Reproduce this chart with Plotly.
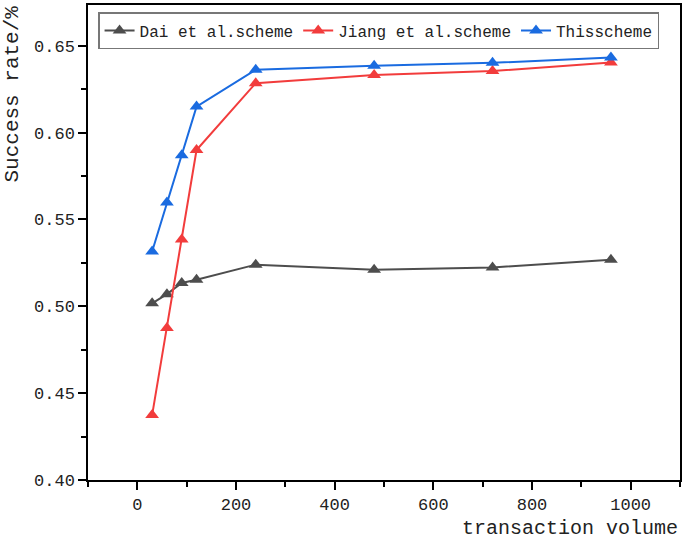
import plotly.graph_objects as go

x_vals = [30, 60, 90, 120, 240, 480, 720, 960]
dai = [0.5017, 0.507, 0.5134, 0.5153, 0.524, 0.5211, 0.5224, 0.5268]
jiang = [0.4374, 0.4875, 0.5385, 0.590, 0.6285, 0.6332, 0.6355, 0.6404]
ours = [0.5316, 0.5598, 0.587, 0.615, 0.6362, 0.6385, 0.6402, 0.6433]
names = ["Dai et al.scheme", "Jiang et al.scheme", "Thisscheme"]
colors = ["#4d4d4d", "#f23c3c", "#1a6be0"]

FONT = "Liberation Mono"
fig = go.Figure()
for name, ys, c in zip(names, [dai, jiang, ours], colors):
    fig.add_trace(go.Scatter(x=x_vals, y=ys, name=name, mode="lines+markers",
                             line=dict(color=c, width=2),
                             marker=dict(symbol="triangle-up", size=12, color=c)))

axis_common = dict(showline=True, linecolor="black", linewidth=1.5, mirror=True,
                   ticks="outside", ticklen=8, tickwidth=1.5, tickcolor="black",
                   showgrid=False, zeroline=False,
                   tickfont=dict(family=FONT, size=17, color="#222"))
fig.update_xaxes(range=[-100, 1100], tick0=0, dtick=200,
                 minor=dict(dtick=100, ticks="outside", ticklen=5, tickwidth=1.5, tickcolor="black"),
                 **axis_common)
fig.update_yaxes(range=[0.4, 0.6735], tick0=0.4, dtick=0.05, tickformat=".2f",
                 minor=dict(dtick=0.025, ticks="outside", ticklen=5, tickwidth=1.5, tickcolor="black"),
                 **axis_common)

fig.update_layout(
    width=685, height=542,
    margin=dict(l=88, r=4, t=3, b=62),
    plot_bgcolor="white", paper_bgcolor="white",
    font=dict(family=FONT, color="#222"),
    legend=dict(orientation="h", x=0.017, y=0.985, xanchor="left", yanchor="top",
                bordercolor="#777", borderwidth=1.5, bgcolor="white",
                font=dict(family=FONT, size=16, color="#222"), itemwidth=30,
                tracegroupgap=0),
    annotations=[
        dict(text="transaction volume", xref="paper", yref="paper", x=1.0, y=-0.102,
             xanchor="right", yanchor="middle", showarrow=False,
             font=dict(family=FONT, size=20, color="#222")),
        dict(text="Success rate/%", xref="paper", yref="paper", x=-0.128, y=0.812,
             xanchor="center", yanchor="middle", textangle=-90, showarrow=False,
             font=dict(family=FONT, size=21, color="#222")),
    ],
)
fig.write_html("out.html", config={"displayModeBar": False},
               post_script="document.body.style.margin='0px';")
